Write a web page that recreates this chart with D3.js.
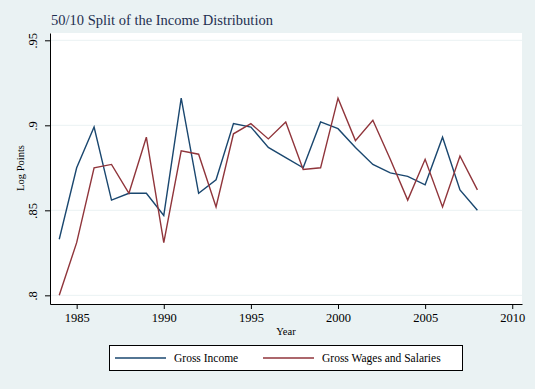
<!DOCTYPE html>
<html>
<head>
<meta charset="utf-8">
<script src="https://cdn.jsdelivr.net/npm/d3@7"></script>
<style>
  body { margin: 0; background: #eaf2f3; }
  svg { display: block; font-family: "Liberation Serif", "Times New Roman", serif; }
</style>
</head>
<body>
<svg id="chart" width="535" height="389"></svg>
<script>
// data
const years = [1984, 1985, 1986, 1987, 1988, 1989, 1990, 1991, 1992, 1993, 1994, 1995, 1996,
               1997, 1998, 1999, 2000, 2001, 2002, 2003, 2004, 2005, 2006, 2007, 2008];
const grossIncome = [0.833, 0.875, 0.899, 0.856, 0.860, 0.860, 0.847, 0.916, 0.860, 0.868, 0.901, 0.899, 0.887,
                     0.881, 0.875, 0.902, 0.898, 0.887, 0.877, 0.872, 0.870, 0.865, 0.893, 0.862, 0.850];
const grossWages = [0.800, 0.831, 0.875, 0.877, 0.860, 0.893, 0.831, 0.885, 0.883, 0.852, 0.895, 0.901, 0.892,
                    0.902, 0.874, 0.875, 0.916, 0.891, 0.903, 0.880, 0.856, 0.880, 0.852, 0.882, 0.862];
const xTicks = [1985, 1990, 1995, 2000, 2005, 2010];
const yTicks = [0.8, 0.85, 0.9, 0.95];
const yTickLabels = [".8", ".85", ".9", ".95"];
const seriesNames = ["Gross Income", "Gross Wages and Salaries"];
const seriesColors = ["#1a476f", "#90353b"];

const svg = d3.select("#chart");
const plot = { left: 50, right: 522, top: 33, bottom: 304 };

var x = d3.scaleLinear().domain([1983.47, 2010.56]).range([plot.left, plot.right]);
var y = d3.scaleLinear().domain([0.7949, 0.9543]).range([plot.bottom, plot.top]);

// plot background
svg.append("rect")
    .attr("x", plot.left).attr("y", plot.top)
    .attr("width", plot.right - plot.left).attr("height", plot.bottom - plot.top)
    .attr("fill", "#fff");

// gridlines
svg.append("g").selectAll("line")
    .data(yTicks)
    .join("line")
    .attr("x1", plot.left).attr("x2", plot.right)
    .attr("y1", d => y(d)).attr("y2", d => y(d))
    .attr("stroke", "#eaf2f3").attr("stroke-width", 1);

// title
svg.append("text")
    .attr("x", 51).attr("y", 25)
    .attr("font-size", 14.5).attr("fill", "#1e2f50")
    .text("50/10 Split of the Income Distribution");

// lines
const seriesData = [grossIncome, grossWages];
var line = d3.line().x((d, i) => x(years[i])).y(d => y(d));
svg.append("g").selectAll("path")
    .data(seriesData)
    .join("path")
    .attr("d", d => line(d))
    .attr("fill", "none")
    .attr("stroke", (d, i) => seriesColors[i])
    .attr("stroke-width", 1.4);

// x axis
var xAxis = svg.append("g")
    .attr("transform", "translate(0," + plot.bottom + ")")
    .call(d3.axisBottom(x).tickValues(xTicks).tickFormat(d3.format("d")).tickSize(5).tickSizeOuter(0));
xAxis.select(".domain").attr("stroke", "#000");
xAxis.selectAll(".tick line").attr("stroke", "#000");
xAxis.selectAll(".tick text")
    .attr("font-family", "Liberation Serif").attr("font-size", 12.5)
    .attr("fill", "#000").attr("dy", "0.8em");

// y axis
var yAxis = svg.append("g")
    .attr("transform", "translate(" + plot.left + ",0)")
    .call(d3.axisLeft(y).tickValues(yTicks).tickFormat((d, i) => yTickLabels[i]).tickSize(5).tickSizeOuter(0));
yAxis.select(".domain").attr("stroke", "#000");
yAxis.selectAll(".tick line").attr("stroke", "#000");
yAxis.selectAll(".tick text")
    .attr("font-family", "Liberation Serif").attr("font-size", 12.5)
    .attr("fill", "#000")
    .attr("x", 0).attr("dy", 0)
    .attr("text-anchor", "middle")
    .attr("transform", "translate(-13,0) rotate(-90)");

// axis titles
svg.append("text")
    .attr("x", (plot.left + plot.right) / 2).attr("y", 335)
    .attr("text-anchor", "middle").attr("font-size", 10.5)
    .text("Year");
svg.append("text")
    .attr("transform", "translate(24,168) rotate(-90)")
    .attr("text-anchor", "middle").attr("font-size", 10.5)
    .text("Log Points");

// legend
var legend = svg.append("g");
legend.append("rect")
    .attr("x", 109.5).attr("y", 345.5).attr("width", 353).attr("height", 25)
    .attr("fill", "#fff").attr("stroke", "#000").attr("stroke-width", 1);
var items = legend.selectAll("g.item")
    .data(seriesNames)
    .join("g")
    .attr("class", "item")
    .attr("transform", (d, i) => "translate(" + (115 + i * 148) + ",358)");
items.append("line")
    .attr("x1", 0).attr("x2", 51)
    .attr("stroke", (d, i) => seriesColors[i]).attr("stroke-width", 1.4);
items.append("text")
    .attr("x", 59).attr("dy", "0.35em")
    .attr("font-size", 11.5)
    .text(d => d);
</script>
</body>
</html>
